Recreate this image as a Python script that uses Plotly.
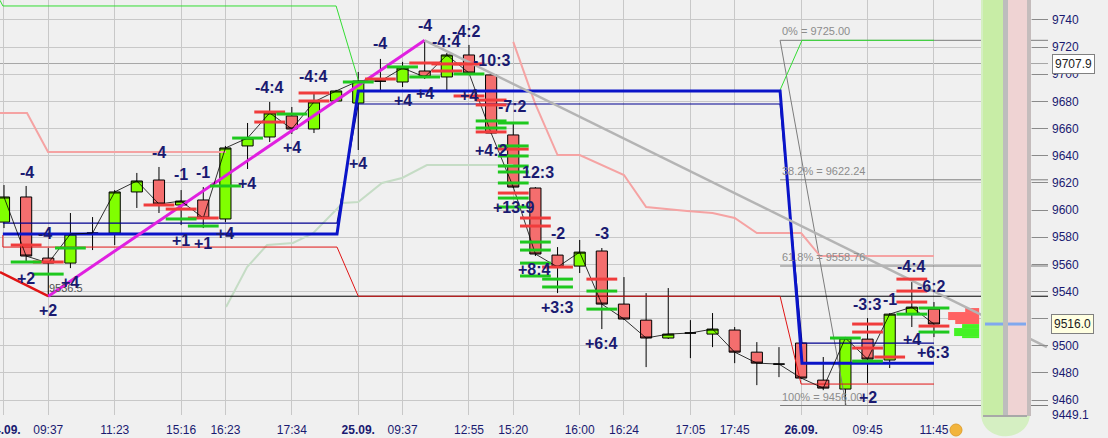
import plotly.graph_objects as go

# ---------------- data ----------------
candle_idx = list(range(43))
opens = [9591.1, 9609.6, 9564.6, 9560.9, 9583.0, 9583.0, 9613.3, 9622.1, 9603.7, 9607.4,
         9593.4, 9647.2, 9653.8, 9669.3, 9659.7, 9680.3, 9678.8, 9695.0, 9694.3, 9702.4,
         9698.0, 9714.2, 9699.5, 9655.3, 9616.2, 9566.8, 9558.7, 9569.8, 9530.7, 9518.9,
         9505.7, 9509.4, 9508.6, 9511.6, 9495.3, 9486.5, 9502.0, 9474.7, 9468.1, 9504.9,
         9489.5, 9523.3, 9527.0]
highs = [9618.4, 9617.7, 9572.0, 9597.8, 9594.8, 9614.7, 9627.3, 9631.7, 9614.7, 9616.9,
         9647.2, 9664.1, 9679.6, 9675.9, 9686.2, 9688.5, 9701.7, 9711.3, 9709.1, 9725.0,
         9715.7, 9721.6, 9700.0, 9664.1, 9616.9, 9572.7, 9577.9, 9572.0, 9550.6, 9538.8,
         9542.5, 9518.9, 9524.1, 9513.8, 9502.7, 9499.0, 9502.5, 9491.7, 9506.5, 9520.4,
         9524.0, 9546.9, 9532.2]
lows = [9586.7, 9561.7, 9536.5, 9557.2, 9570.5, 9574.2, 9601.5, 9597.8, 9588.9, 9586.7,
        9591.1, 9630.2, 9650.1, 9656.0, 9656.7, 9679.5, 9644.2, 9686.9, 9690.6, 9696.5,
        9686.9, 9699.5, 9656.0, 9616.2, 9566.1, 9538.8, 9553.6, 9512.3, 9519.0, 9484.3,
        9505.0, 9490.9, 9499.0, 9487.2, 9471.0, 9476.9, 9475.5, 9467.3, 9456.0, 9472.5,
        9483.6, 9513.8, 9506.4]
closes = [9609.6, 9566.1, 9560.9, 9582.3, 9583.0, 9613.3, 9621.4, 9604.4, 9606.6, 9594.1,
          9645.7, 9653.0, 9671.5, 9659.7, 9679.6, 9687.7, 9695.0, 9695.0, 9704.6, 9698.0,
          9714.2, 9700.9, 9656.7, 9616.9, 9567.6, 9558.0, 9569.0, 9530.7, 9519.7, 9505.7,
          9508.6, 9509.4, 9512.3, 9495.3, 9487.2, 9486.5, 9476.2, 9468.8, 9505.7, 9490.2,
          9523.3, 9528.5, 9516.0]

x_tick_idx = [0, 2, 5, 8, 10, 13, 16, 18, 21, 23, 26, 28, 31, 33, 36, 39, 42]
x_tick_text = ["<b>24.09.</b>", "09:37", "11:23", "15:16", "16:23", "17:34", "<b>25.09.</b>",
               "09:37", "12:55", "15:20", "16:00", "16:24", "17:05", "17:45", "<b>26.09.</b>",
               "09:45", "11:45"]
y_tick_vals = [9449.1, 9460, 9480, 9500, 9520, 9540, 9560, 9580, 9600, 9620, 9640, 9660,
               9680, 9700, 9720, 9740]
y_tick_text = ["9449.1", "9460", "9480", "9500", "", "9540", "9560", "9580", "9600", "9620",
               "9640", "9660", "9680", "9700", "9720", "9740"]

# executions (sell = red, buy = green)
sell_idx = [1, 2, 7, 8, 9, 12, 12, 14, 14, 17, 19, 20, 20, 21, 21, 22, 22, 22, 23, 23, 24, 24,
            25, 27, 39, 39, 39, 40, 41, 41, 41, 42]
sell_px = [9574.2, 9561.7, 9603.7, 9600.7, 9594.1, 9672.2, 9664.8, 9686.2, 9680.3, 9696.5,
           9708.3, 9707.6, 9702.4, 9707.6, 9684.0, 9681.0, 9677.4, 9657.5, 9644.9, 9612.5,
           9594.1, 9588.2, 9558.0, 9549.1, 9516.0, 9510.1, 9498.3, 9491.7, 9549.1, 9540.3,
           9532.2, 9514.5]
buy_idx = [1, 2, 3, 8, 9, 10, 11, 13, 16, 18, 19, 21, 22, 22, 23, 23, 23, 23, 23, 23, 23, 23,
           24, 24, 24, 24, 25, 25, 27, 27, 38, 39, 41, 42, 42]
buy_px = [9561.7, 9552.8, 9572.0, 9593.4, 9588.2, 9617.7, 9653.0, 9670.7, 9694.3, 9705.4,
          9698.0, 9700.2, 9665.6, 9660.4, 9664.1, 9647.2, 9639.8, 9632.4, 9628.0, 9619.9,
          9608.8, 9602.2, 9576.4, 9570.5, 9560.9, 9551.4, 9549.1, 9543.3, 9540.3, 9527.0,
          9505.7, 9488.7, 9523.3, 9527.8, 9510.1]

# indicator / drawing lines
green_stop_x = [-0.18, -0.05, 15.0, 16.0, None, 35.05, 36.04, 42.0]
green_stop_y = [9754.5, 9750.3, 9750.3, 9695.8, None, 9688.4, 9725.0, 9725.0]
pink_x = [-0.18, 1.04, 1.99, 10.03, None, 23.0, 23.98, 25.0, 26.0, 28.0, 29.0, 30.85, 32.0,
          33.0, 34.0, 36.0, 36.86, 42.0]
pink_y = [9671.5, 9671.5, 9642.7, 9642.7, None, 9723.8, 9678.8, 9640.5, 9640.5, 9625.8,
          9602.2, 9599.3, 9597.8, 9594.1, 9583.0, 9583.0, 9566.1, 9566.1]
sage_x = [10.03, 10.98, 11.88, 13.05, 13.96, 14.86, 15.3, 16.0, 17.07, 17.98, 19.1, 23.0]
sage_y = [9528.5, 9558.0, 9574.2, 9575.7, 9583.0, 9597.8, 9605.1, 9605.9, 9619.9, 9623.6,
          9633.1, 9633.1]
red_thin_x = [-0.05, -0.05, 15.04, 16.0, 35.05, 36.0, 42.0]
red_thin_y = [9581.6, 9572.7, 9572.7, 9536.5, 9536.5, 9471.8, 9471.8]
red_thick_x = [-0.18, 2.0]
red_thick_y = [9554.3, 9536.5]
blue_thick_x = [-0.05, 15.04, 16.0, 35.05, 36.04, 42.0]
blue_thick_y = [9582.3, 9582.3, 9687.7, 9687.7, 9487.2, 9487.2]
blue_thin_x = [-0.05, 15.04, 16.0, 35.05, 36.04, 42.0]
blue_thin_y = [9590.4, 9590.4, 9678.1, 9678.1, 9502.0, 9502.0]
magenta_x = [2.0, 19.0]
magenta_y = [9536.5, 9725.0]
trend_x = [19.0, 47.1]
trend_y = [9725.0, 9499.0]
low_level_x = [2.0, 47.15]
low_level = 9536.5
fib_start = 35.05
fib_levels = [9725.00, 9622.24, 9558.76, 9456.00]
fib_labels = ["0% = 9725.00", "38.2% = 9622.24", "61.8% = 9558.76", "100% = 9456.00"]
fib_diag_x = [35.05, 38.03]
fib_diag_y = [9725.0, 9456.0]
cursor_price = 9707.9
last_price = 9516.0

# order book depth
depth_px = [9526.3, 9521.9, 9517.5, 9514.5, 9510.1, 9506.4]
depth_size = [0.63, 1.40, 1.08, 0.77, 1.13, 0.77]
depth_side = ["ask", "ask", "ask", "bid", "bid", "bid"]
depth_h = [2.95, 5.9, 2.95, 2.95, 5.9, 1.5]
depth_right = 44.04

# signal labels
sig_text = ["-4", "-4", "-1", "-1", "+4", "-4:4", "+4", "-4:4", "+4", "-4", "+2", "+4", "+2",
            "+1", "+1", "+4", "-4", "-4", "-4:4", "-4:2", "-10:3", "+4", "+4", "+4", "-7:2",
            "+4:2", "12:3", "+13:9", "+8:4", "-2", "-3", "+3:3", "+6:4", "-4:4", "-6:2",
            "-3:3", "-1", "+4", "+6:3", "+2", "+2"]
sig_x = [1.04, 7.0, 8.0, 9.0, 10.98, 11.97, 13.0, 13.96, 16.0, 1.85, 1.0, 3.0, 2.0,
         8.0, 9.0, 10.0, 17.0, 19.0, 20.0, 20.9, 22.0, 18.0, 19.0, 21.0, 22.95,
         22.0, 24.1, 23.0, 23.94, 25.0, 27.0, 24.98, 27.0, 41.0, 41.9,
         39.0, 40.0, 41.0, 42.0, 39.0, 38.0]
sig_y = [9627.3, 9642.7, 9626.5, 9627.3, 9619.9, 9690.6, 9646.4, 9698.0, 9634.6, 9583.0,
         9549.9, 9546.9, 9526.3, 9577.9, 9575.7, 9583.0, 9722.3, 9735.6, 9724.5, 9731.2,
         9709.8, 9681.0, 9685.5, 9684.0, 9675.9, 9643.5, 9627.3, 9602.2, 9556.5, 9583.0,
         9583.0, 9528.5, 9502.0, 9558.7, 9543.3, 9530.7, 9534.4, 9504.9, 9495.3, 9462.2,
         9446.0]

NAVY = "#1a1a70"
FONT = "Arial, Liberation Sans, sans-serif"

fig = go.Figure()


def add_line(x, y, color, width):
    fig.add_trace(go.Scatter(x=x, y=y, mode="lines", line=dict(color=color, width=width),
                             hoverinfo="skip", showlegend=False, connectgaps=False))


# fib lines
for lv in fib_levels:
    add_line([fib_start, 47.15], [lv, lv], "#7c7c7c", 1)
add_line(fib_diag_x, fib_diag_y, "#7c7c7c", 1)

add_line(pink_x, pink_y, "#f5a3a3", 2)
add_line(sage_x, sage_y, "#c5dcc5", 2)
add_line(green_stop_x, green_stop_y, "#33dd33", 1)
add_line(low_level_x, [low_level, low_level], "#000000", 1)
add_line(red_thin_x, red_thin_y, "#e01515", 1)
add_line(red_thick_x, red_thick_y, "#e01515", 2.5)
add_line(blue_thin_x, blue_thin_y, "#000090", 1.2)
add_line(blue_thick_x, blue_thick_y, "#0a14c8", 3)
add_line(magenta_x, magenta_y, "#e020e0", 3)
add_line(trend_x, trend_y, "#b4b4b4", 2.5)

# depth
fig.add_trace(go.Bar(orientation="h", y=depth_px, x=depth_size,
                     base=[depth_right - s for s in depth_size], width=depth_h,
                     marker=dict(color=["#ff6262" if s == "ask" else "#44f224" for s in depth_side],
                                 line=dict(width=0)),
                     hoverinfo="skip", showlegend=False))

# candles
fig.add_trace(go.Candlestick(
    x=candle_idx, open=opens, high=highs, low=lows, close=closes,
    increasing=dict(fillcolor="#80ff00", line=dict(color="#000000", width=1)),
    decreasing=dict(fillcolor="#f46e6e", line=dict(color="#000000", width=1)),
    whiskerwidth=0, hoverinfo="skip", showlegend=False))

# close line
add_line(candle_idx, closes, "#000000", 0.8)

# executions
fig.add_trace(go.Scatter(x=sell_idx, y=sell_px, mode="markers",
                         marker=dict(symbol="line-ew", size=22, line=dict(color="#f03c3c", width=3)),
                         hoverinfo="skip", showlegend=False))
fig.add_trace(go.Scatter(x=buy_idx, y=buy_px, mode="markers",
                         marker=dict(symbol="line-ew", size=22, line=dict(color="#1ec81e", width=3)),
                         hoverinfo="skip", showlegend=False))


# shapes: right-side columns
def px(xp):
    return xp / 1048.0


def py(yp):
    return 1 - yp / 415.0


shapes = []
tube = (f"M {px(981)},{py(-2)} L {px(981)},{py(413)} "
        f"C {px(981)},{py(444)} {px(1030)},{py(444)} {px(1030)},{py(413)} "
        f"L {px(1030)},{py(-2)} Z")
shapes.append(dict(type="path", xref="paper", yref="paper", path=tube,
                   fillcolor="#d5efc2", line=dict(width=0), layer="above"))
shapes.append(dict(type="rect", xref="paper", yref="paper", x0=px(983), x1=px(1003),
                   y0=py(416), y1=py(0), fillcolor="#c8eda6", line=dict(width=0), layer="above"))
shapes.append(dict(type="rect", xref="paper", yref="paper", x0=px(1003), x1=px(1008),
                   y0=py(416), y1=py(0), fillcolor="#bdbdbd", line=dict(width=0), layer="above"))
shapes.append(dict(type="rect", xref="paper", yref="paper", x0=px(1008), x1=px(1027),
                   y0=py(416), y1=py(0), fillcolor="#efd3d3", line=dict(width=0), layer="above"))
shapes.append(dict(type="rect", xref="paper", yref="paper", x0=px(1027), x1=px(1031),
                   y0=py(416), y1=py(0), fillcolor="#c4bcbc", line=dict(width=0), layer="above"))
shapes.append(dict(type="line", xref="paper", yref="paper", x0=px(983), x1=px(1027),
                   y0=py(416), y1=py(416), line=dict(color="#a8a8a8", width=2), layer="above"))
for a, b in [(985, 1003), (1008, 1026)]:
    shapes.append(dict(type="line", xref="paper", yref="y", x0=px(a), x1=px(b),
                       y0=last_price, y1=last_price, line=dict(color="#80a8ee", width=3),
                       layer="above"))
# cursor line
shapes.append(dict(type="line", xref="paper", yref="y", x0=0, x1=1, y0=cursor_price,
                   y1=cursor_price, line=dict(color="#a6a6a6", width=1), layer="below"))
# orange icon
shapes.append(dict(type="circle", xref="paper", yref="paper", x0=px(950), x1=px(962),
                   y0=py(436), y1=py(424), fillcolor="#f2b43c", line=dict(color="#e0a030", width=1)))

annotations = []
for t, lv in zip(fib_labels, fib_levels):
    annotations.append(dict(x=fib_start, y=lv, xref="x", yref="y", text=t, showarrow=False,
                            xanchor="left", yanchor="bottom", yshift=1,
                            font=dict(family=FONT, size=11, color="#8c8c8c")))
annotations.append(dict(x=2.0, y=9542.5, xref="x", yref="y", text="9536.5", showarrow=False,
                        xanchor="left", yanchor="middle", xshift=-1,
                        font=dict(family=FONT, size=11, color="#505050")))
for t, xv, yv in zip(sig_text, sig_x, sig_y):
    annotations.append(dict(x=xv, y=yv, xref="x", yref="y", text=f"<b>{t}</b>", showarrow=False,
                            xanchor="center", yanchor="middle",
                            font=dict(family=FONT, size=16, color=NAVY)))
annotations.append(dict(x=1.004, y=cursor_price, xref="paper", yref="y", text="9707.9",
                        showarrow=False, xanchor="left", yanchor="middle", bgcolor="#ffffff",
                        bordercolor="#808080", borderwidth=1, borderpad=2,
                        font=dict(family=FONT, size=12, color="#202020")))
annotations.append(dict(x=1.003, y=last_price, xref="paper", yref="y", text="9516.0",
                        showarrow=False, xanchor="left", yanchor="middle", bgcolor="#ffffe1",
                        bordercolor="#808080", borderwidth=1, borderpad=2,
                        font=dict(family=FONT, size=12, color="#202020")))

fig.update_layout(
    width=1108, height=438,
    margin=dict(l=0, r=60, t=0, b=23, autoexpand=False),
    plot_bgcolor="#f0f0f0", paper_bgcolor="#f0f0f0",
    showlegend=False, barmode="overlay", boxgap=0.28,
    shapes=shapes, annotations=annotations,
    xaxis=dict(range=[-0.18, 47.15], tickmode="array", tickvals=x_tick_idx, ticktext=x_tick_text,
               showgrid=True, gridcolor="#c8c8c8", gridwidth=1, zeroline=False, showline=False,
               ticks="", ticklabelstandoff=6,
               tickfont=dict(family=FONT, size=12, color=NAVY), automargin=False,
               ticklabeloverflow="allow", rangeslider=dict(visible=False), fixedrange=True),
    yaxis=dict(range=[9449.0, 9754.7], side="right", tickmode="array", tickvals=y_tick_vals,
               ticktext=y_tick_text, showgrid=True, gridcolor="#c8c8c8", gridwidth=1,
               zeroline=False, showline=False, ticks="inside", ticklen=16, tickcolor="#8a8a8a",
               ticklabelstandoff=3,
               tickfont=dict(family=FONT, size=12, color=NAVY), automargin=False, fixedrange=True),
)

fig.write_html("out.html", config={"displayModeBar": False, "staticPlot": True},
               post_script="document.body.style.margin='0';document.body.style.overflow='hidden';")
